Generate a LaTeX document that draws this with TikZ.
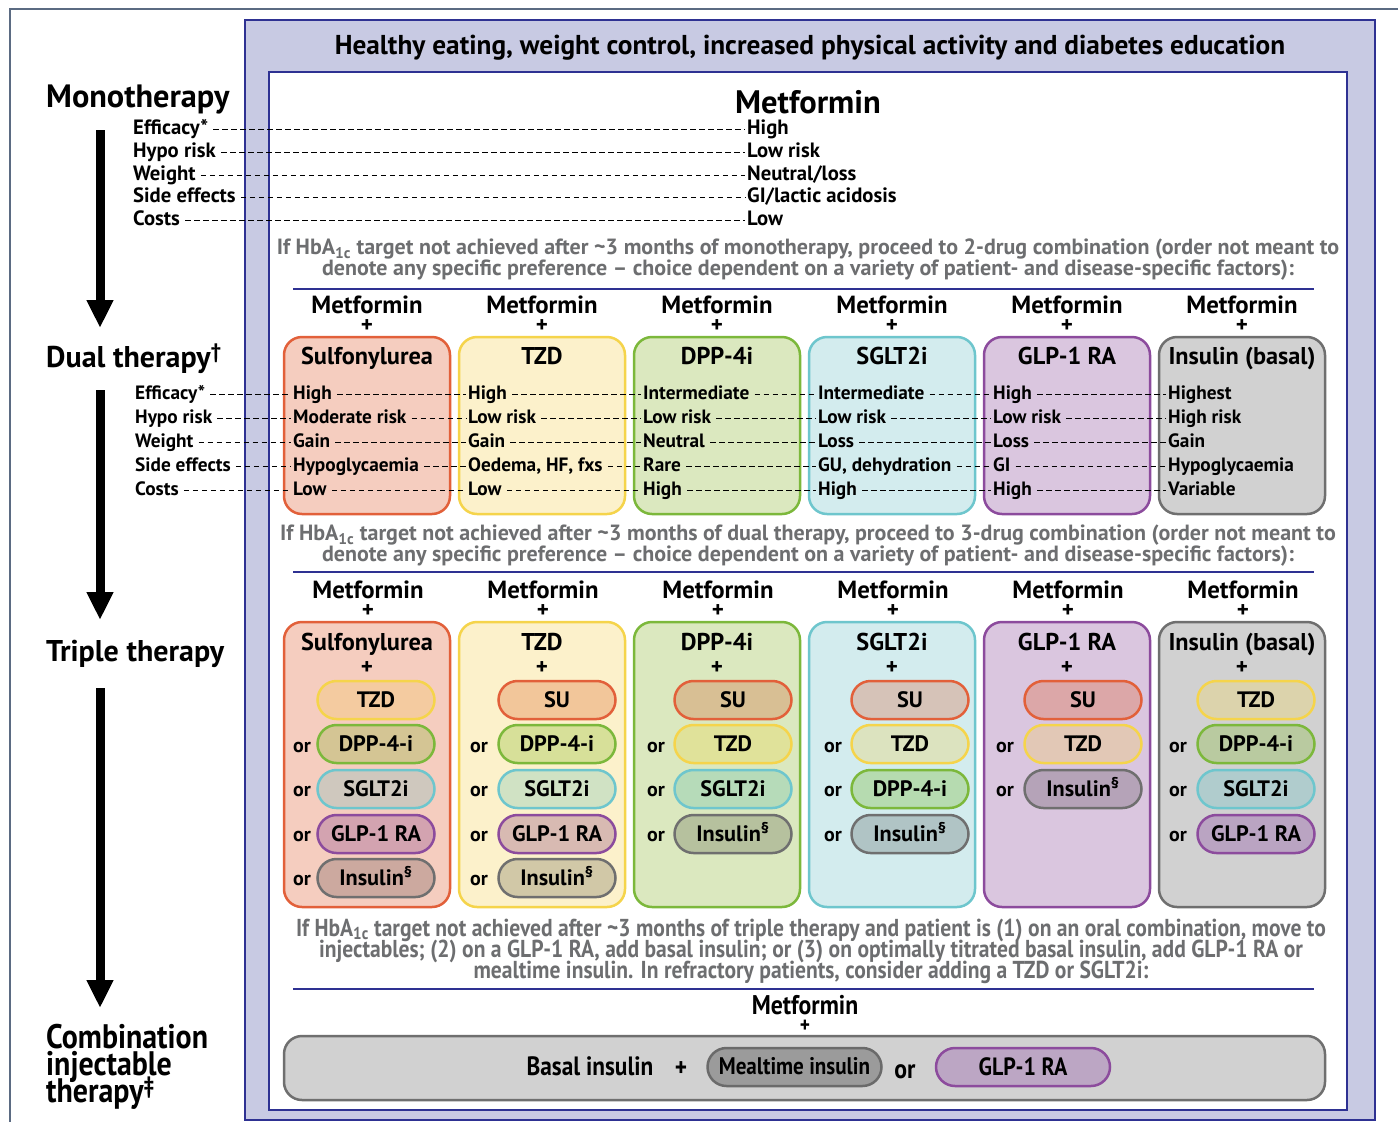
\documentclass[tikz,border=0pt]{standalone}
\usepackage{fontspec}
\setmainfont{PT Sans}
\newfontfamily\condfont[FakeStretch=0.88]{PT Sans}
\newcommand\tightlines{\lineskiplimit-40pt\relax\lineskip0pt\relax}
\usetikzlibrary{arrows.meta}
\definecolor{lav}{HTML}{C8CAE3}
\definecolor{navy}{HTML}{2E3192}
\definecolor{framec}{HTML}{5B6B82}
\definecolor{greytxt}{HTML}{6D6E70}
\definecolor{sufill}{HTML}{F5CDBF}\definecolor{sudraw}{HTML}{E2603A}
\definecolor{tzfill}{HTML}{FCF1CB}\definecolor{tzdraw}{HTML}{F5D44B}
\definecolor{dpfill}{HTML}{DBE8BF}\definecolor{dpdraw}{HTML}{7CB83B}
\definecolor{sgfill}{HTML}{D3ECEE}\definecolor{sgdraw}{HTML}{6EC6CD}
\definecolor{glfill}{HTML}{DAC6DF}\definecolor{gldraw}{HTML}{8C4B9D}
\definecolor{infill}{HTML}{D1D1D1}\definecolor{indraw}{HTML}{6F6F6F}
% pill fills per column
\definecolor{pAtz}{HTML}{F4CBA0}\definecolor{pAdp}{HTML}{D4C594}\definecolor{pAsg}{HTML}{CFC8BE}\definecolor{pAgl}{HTML}{D3A3B0}\definecolor{pAin}{HTML}{CCA99F}
\definecolor{pBsu}{HTML}{F2C69A}\definecolor{pBdp}{HTML}{D7E099}\definecolor{pBsg}{HTML}{D0E2C4}\definecolor{pBgl}{HTML}{D8BAB2}\definecolor{pBin}{HTML}{D1C8A7}
\definecolor{pCsu}{HTML}{D8BF94}\definecolor{pCtz}{HTML}{E0E29A}\definecolor{pCsg}{HTML}{B6DBB9}\definecolor{pCin}{HTML}{B6C19E}
\definecolor{pDsu}{HTML}{D6C3B8}\definecolor{pDtz}{HTML}{DCE3BF}\definecolor{pDdp}{HTML}{B6DBB0}\definecolor{pDin}{HTML}{B0C4C5}
\definecolor{pEsu}{HTML}{DCA7A8}\definecolor{pEtz}{HTML}{E2C8B6}\definecolor{pEin}{HTML}{B5A3B8}
\definecolor{pFtz}{HTML}{DCD3AC}\definecolor{pFdp}{HTML}{B9CAA0}\definecolor{pFsg}{HTML}{B0CCCD}\definecolor{pFgl}{HTML}{BAA4C2}
\definecolor{mealfill}{HTML}{9B9B9B}\definecolor{mealdraw}{HTML}{6A6A6A}
\definecolor{bglfill}{HTML}{BCA6C4}
\begin{document}
\begin{tikzpicture}[x=1pt,y=-1pt,
  every node/.style={inner sep=0pt},
  T/.style={font=\fontsize{#1}{#1}\selectfont\bfseries, text height={0.72*#1pt}, text depth={0.2*#1pt}, yshift={-0.07*#1pt}},
  M/.style={font=\fontsize{#1}{#1}\selectfont\bfseries, text height={0.72*#1pt}, text depth=0pt},
  PL/.style={font=\fontsize{#1}{#1}\selectfont\bfseries, text height={0.5*#1pt}, text depth=0pt},
  C/.style={font=\fontsize{#1}{#1}\selectfont\condfont\bfseries, text height={0.72*#1pt}, text depth={0.06*#1pt}},
  val/.style={T=#1, anchor=west, inner xsep=2pt},
  dsh/.style={dash pattern=on 5.5pt off 3.5pt, line width=1.3pt},
  colbox/.style={rounded corners=18pt, line width=2.5pt, minimum width=166pt},
  pill/.style 2 args={fill=#1, draw=#2, rounded corners=19pt, line width=2.5pt, minimum width=117pt, minimum height=38pt, font=\fontsize{22.3}{22.3}\selectfont\bfseries, text height=16pt, text depth=1.5pt},
  bigarrow/.style={line width=9pt, -{Triangle[width=25pt,length=28pt]}},
  phase/.style={font=\fontsize{#1}{#1}\selectfont\bfseries, anchor=west, text height={0.72*#1pt}, text depth={0.06*#1pt}},
  hba/.style={font=\fontsize{22}{21}\selectfont\bfseries\tightlines, text=greytxt, align=center},
  navyline/.style={draw=navy, line width=2.5pt}
]
\useasboundingbox (0,0) rectangle (1398,1122);
% frames
\draw[framec, line width=1.2pt] (10,1122) -- (10,9) -- (1398,9);
\draw[fill=lav, draw=navy, line width=2pt] (245,20) rectangle (1375,1120);
\draw[fill=white, draw=navy, line width=2.5pt] (269,72) rectangle (1347,1110);
\node[M=27.3] (title) at (810,45) {Healthy eating, weight control, increased physical activity and diabetes education};

% left column
\node[phase=32.3] (mono) at (46,97) {Monotherapy};
\node[phase=30] (dual) at (46,358) {Dual therapy\textsuperscript{\dag}};
\node[phase=30] (triple) at (46,652) {Triple therapy};
\node[font=\fontsize{34}{27}\selectfont\condfont\bfseries\tightlines, anchor=west, align=left] (comb) at (46,1067) {Combination\\injectable\\therapy\textsuperscript{\ddag}};
\coordinate (a1s) at (100,130); \coordinate (a1e) at (100,328);
\coordinate (a2s) at (100,390); \coordinate (a2e) at (100,620);
\coordinate (a3s) at (100,688); \coordinate (a3e) at (100,1008);
\draw[bigarrow] (a1s) -- (a1e);
\draw[bigarrow] (a2s) -- (a2e);
\draw[bigarrow] (a3s) -- (a3e);

% monotherapy
\node[M=32.5] (met0) at (808,102) {Metformin};
\foreach \r/\y/\t/\v in {1/128/Efficacy*/High, 2/151/Hypo risk/Low risk, 3/174/Weight/Neutral\slash loss, 4/196/Side effects/GI\slash lactic acidosis, 5/219/Costs/Low}{
  \node[val=20.7] (ml\r) at (131,\y) {\t};
  \node[val=20.7] (mv\r) at (745,\y) {\v};
  \draw[dsh, shorten <=3pt] (ml\r.east) -- (mv\r.west);
}
\node[hba] (hba1) at (808,260) {If HbA\textsubscript{1c} target not achieved after \textasciitilde3 months of monotherapy, proceed to 2-drug combination (order not meant to\\denote any specific preference -- choice dependent on a variety of patient- and disease-specific factors):};
\coordinate (l1a) at (293,289); \coordinate (l1b) at (1314,289);
\draw[navyline] (l1a) -- (l1b);

% dual therapy
\foreach \i/\cx/\fc/\dc/\ttl in {1/367/sufill/sudraw/Sulfonylurea, 2/542/tzfill/tzdraw/TZD, 3/717/dpfill/dpdraw/DPP-4i, 4/892/sgfill/sgdraw/SGLT2i, 5/1067/glfill/gldraw/GLP-1 RA, 6/1242/infill/indraw/Insulin (basal)}{
  \node[M=24.8] (dm\i) at (\cx,305) {Metformin};
  \node[PL=23] (dp\i) at (\cx,326.5) {+};
  \node[colbox, fill=\fc, draw=\dc, minimum height=177pt] (db\i) at (\cx,425.5) {};
  \node[T=24.3] (dt\i) at (\cx,356) {\ttl};
}
\foreach \i/\cx/\a/\b/\c/\d/\e in {1/367/High/Moderate risk/Gain/Hypoglycaemia/Low, 2/542/High/Low risk/Gain/{Oedema, HF, fxs}/Low, 3/717/Intermediate/Low risk/Neutral/Rare/High, 4/892/Intermediate/Low risk/Loss/{GU, dehydration}/High, 5/1067/High/Low risk/Loss/GI/High, 6/1242/Highest/High risk/Gain/Hypoglycaemia/Variable}{
  \node[val=19.3] (dv\i-1) at (\cx-76,393) {\a};
  \node[val=19.3] (dv\i-2) at (\cx-76,417) {\b};
  \node[val=19.3] (dv\i-3) at (\cx-76,441) {\c};
  \node[val=19.3] (dv\i-4) at (\cx-76,465) {\d};
  \node[val=19.3] (dv\i-5) at (\cx-76,489) {\e};
}
\foreach \r/\y/\t in {1/393/Efficacy*, 2/417/Hypo risk, 3/441/Weight, 4/465/Side effects, 5/489/Costs}{
  \node[val=19.3] (dl\r) at (133,\y) {\t};
  \draw[dsh, shorten <=3pt] (dl\r.east) -- (dv1-\r.west);
  \foreach \i [evaluate=\i as \j using int(\i+1)] in {1,...,5}
    \draw[dsh, shorten <=3pt] (dv\i-\r.east) -- (dv\j-\r.west);
}
\node[hba] (hba2) at (808,546) {If HbA\textsubscript{1c} target not achieved after \textasciitilde3 months of dual therapy, proceed to 3-drug combination (order not meant to\\denote any specific preference -- choice dependent on a variety of patient- and disease-specific factors):};
\coordinate (l2a) at (293,572); \coordinate (l2b) at (1314,572);
\draw[navyline] (l2a) -- (l2b);

% triple therapy
\foreach \i/\cx/\fc/\dc/\ttl in {1/367/sufill/sudraw/Sulfonylurea, 2/542/tzfill/tzdraw/TZD, 3/717/dpfill/dpdraw/DPP-4i, 4/892/sgfill/sgdraw/SGLT2i, 5/1067/glfill/gldraw/GLP-1 RA, 6/1242/infill/indraw/Insulin (basal)}{
  \node[M=24.8] (tm\i) at (\cx+1,590) {Metformin};
  \node[PL=23] (tp\i) at (\cx+1,611.5) {+};
  \node[colbox, fill=\fc, draw=\dc, minimum height=285pt] (tb\i) at (\cx,764.5) {};
  \node[T=24.3] (tt\i) at (\cx,642) {\ttl};
  \node[PL=23] (tq\i) at (\cx,669) {+};
}
% column 1
\node[pill={pAtz}{tzdraw}] (p1-1) at (376,700) {TZD};
\node[pill={pAdp}{dpdraw}] (p1-2) at (376,744) {DPP-4-i};
\node[pill={pAsg}{sgdraw}] (p1-3) at (376,789) {SGLT2i};
\node[pill={pAgl}{gldraw}] (p1-4) at (376,834) {GLP-1 RA};
\node[pill={pAin}{indraw}] (p1-5) at (376,878) {Insulin\textsuperscript{\S}};
% column 2
\node[pill={pBsu}{sudraw}] (p2-1) at (557,700) {SU};
\node[pill={pBdp}{dpdraw}] (p2-2) at (557,744) {DPP-4-i};
\node[pill={pBsg}{sgdraw}] (p2-3) at (557,789) {SGLT2i};
\node[pill={pBgl}{gldraw}] (p2-4) at (557,834) {GLP-1 RA};
\node[pill={pBin}{indraw}] (p2-5) at (557,878) {Insulin\textsuperscript{\S}};
% column 3
\node[pill={pCsu}{sudraw}] (p3-1) at (733,700) {SU};
\node[pill={pCtz}{tzdraw}] (p3-2) at (733,744) {TZD};
\node[pill={pCsg}{sgdraw}] (p3-3) at (733,789) {SGLT2i};
\node[pill={pCin}{indraw}] (p3-4) at (733,834) {Insulin\textsuperscript{\S}};
% column 4
\node[pill={pDsu}{sudraw}] (p4-1) at (910,700) {SU};
\node[pill={pDtz}{tzdraw}] (p4-2) at (910,744) {TZD};
\node[pill={pDdp}{dpdraw}] (p4-3) at (910,789) {DPP-4-i};
\node[pill={pDin}{indraw}] (p4-4) at (910,834) {Insulin\textsuperscript{\S}};
% column 5
\node[pill={pEsu}{sudraw}] (p5-1) at (1083,700) {SU};
\node[pill={pEtz}{tzdraw}] (p5-2) at (1083,744) {TZD};
\node[pill={pEin}{indraw}] (p5-3) at (1083,789) {Insulin\textsuperscript{\S}};
% column 6
\node[pill={pFtz}{tzdraw}] (p6-1) at (1256,700) {TZD};
\node[pill={pFdp}{dpdraw}] (p6-2) at (1256,744) {DPP-4-i};
\node[pill={pFsg}{sgdraw}] (p6-3) at (1256,789) {SGLT2i};
\node[pill={pFgl}{gldraw}] (p6-4) at (1256,834) {GLP-1 RA};
% "or" labels
\foreach \x/\c/\rows in {302/1/{2,3,4,5}, 479/2/{2,3,4,5}, 656/3/{2,3,4}, 833/4/{2,3,4}, 1005/5/{2,3}, 1178/6/{2,3,4}}{
  \foreach \r in \rows{
    \pgfmathsetmacro{\yy}{700+44.5*(\r-1)+1}
    \node[T=20] (or\c-\r) at (\x,\yy) {or};
  }
}

\node[font=\fontsize{24.5}{21}\selectfont\condfont\bfseries\tightlines, text=greytxt, align=center] (hba3) at (811,951) {If HbA\textsubscript{1c} target not achieved after \textasciitilde3 months of triple therapy and patient is (1) on an oral combination, move to\\injectables; (2) on a GLP-1 RA, add basal insulin; or (3) on optimally titrated basal insulin, add GLP-1 RA or\\mealtime insulin. In refractory patients, consider adding a TZD or SGLT2i:};
\coordinate (l3a) at (293,989); \coordinate (l3b) at (1314,989);
\draw[navyline] (l3a) -- (l3b);

% combination injectable
\node[font=\fontsize{27}{27}\selectfont\condfont\bfseries, text height=19.4pt, text depth=0pt] (bm) at (805,1005) {Metformin};
\node[font=\fontsize{22}{22}\selectfont\condfont\bfseries, text height=11pt, text depth=0pt] (bp) at (805,1026.5) {+};
\node[rounded corners=18pt, fill=infill, draw=indraw, line width=2.5pt, minimum width=1041pt, minimum height=64pt] (injbox) at (804.5,1068) {};
\node[C=26.5] (basal) at (590,1067) {Basal insulin};
\node[C=26.5] (bplus) at (681,1068) {+};
\node[fill=mealfill, draw=mealdraw, rounded corners=19pt, line width=2.5pt, minimum width=174pt, minimum height=38pt, C=24] (meal) at (794.5,1067) {Mealtime insulin};
\node[C=27] (bor) at (905,1070) {or};
\node[fill=bglfill, draw=gldraw, rounded corners=19pt, line width=2.5pt, minimum width=174pt, minimum height=38pt, C=25] (bglp) at (1023,1067) {GLP-1 RA};
\end{tikzpicture}
\end{document}
